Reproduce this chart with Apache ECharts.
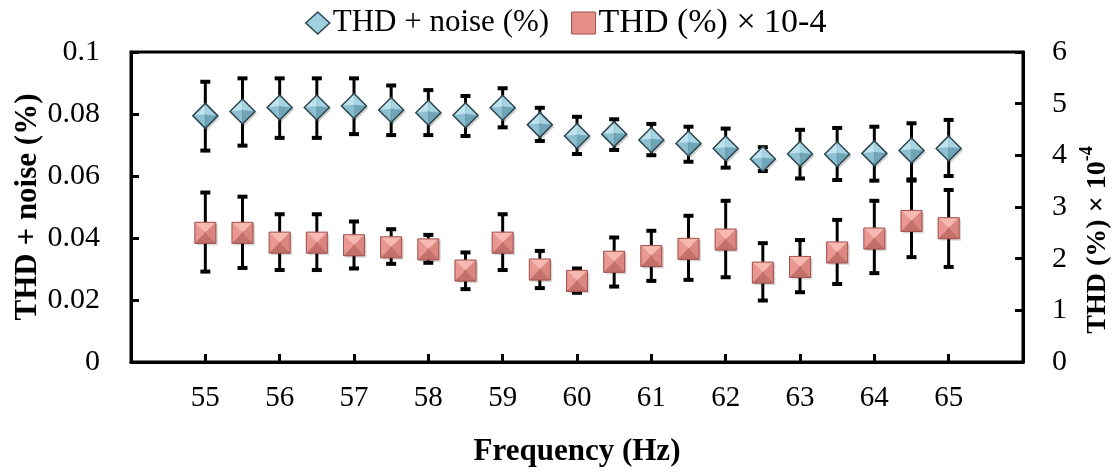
<!DOCTYPE html>
<html>
<head>
<meta charset="utf-8">
<title>THD vs frequency</title>
<style>
  * { margin: 0; padding: 0; }
  #chart-container { width: 1112px; height: 472px; background: #fff; }
</style>
</head>
<body>
<div id="chart-container"></div>
<script src="https://cdn.jsdelivr.net/npm/echarts@6/dist/echarts.min.js"></script>
<script>
var freq = [55, 55.5, 56, 56.5, 57, 57.5, 58, 58.5, 59, 59.5, 60, 60.5, 61, 61.5, 62, 62.5, 63, 63.5, 64, 64.5, 65];

// THD + noise (%), left axis
var thdn     = [0.0794, 0.0808, 0.0821, 0.0821, 0.0826, 0.0813, 0.0804, 0.0796, 0.0820, 0.0765, 0.0729, 0.0735, 0.0716, 0.0705, 0.0689, 0.0655, 0.0671, 0.0670, 0.0673, 0.0682, 0.0689];
var thdnHigh = [0.0904, 0.0915, 0.0915, 0.0915, 0.0915, 0.0892, 0.0877, 0.0858, 0.0883, 0.0820, 0.0791, 0.0783, 0.0768, 0.0759, 0.0753, 0.0693, 0.0749, 0.0755, 0.0759, 0.0770, 0.0781];
var thdnLow  = [0.0682, 0.0698, 0.0723, 0.0723, 0.0735, 0.0732, 0.0732, 0.0729, 0.0757, 0.0713, 0.0671, 0.0684, 0.0667, 0.0646, 0.0627, 0.0616, 0.0592, 0.0587, 0.0585, 0.0589, 0.0600];

// THD (%) x 10^-4, right axis
var thd     = [2.50, 2.50, 2.31, 2.31, 2.26, 2.22, 2.18, 1.77, 2.31, 1.79, 1.57, 1.94, 2.05, 2.19, 2.37, 1.73, 1.84, 2.12, 2.39, 2.73, 2.59];
var thdHigh = [3.28, 3.20, 2.86, 2.86, 2.72, 2.57, 2.46, 2.12, 2.86, 2.15, 1.81, 2.41, 2.54, 2.83, 3.12, 2.30, 2.36, 2.75, 3.12, 3.51, 3.33];
var thdLow  = [1.75, 1.82, 1.78, 1.78, 1.81, 1.90, 1.92, 1.41, 1.78, 1.43, 1.34, 1.46, 1.57, 1.59, 1.64, 1.19, 1.35, 1.51, 1.72, 2.03, 1.84];

var FONT = '"Liberation Serif", "Times New Roman", serif';

function pairs(xs, ys) {
  return xs.map(function (x, i) { return [x, ys[i]]; });
}
function bars(xs, lo, hi) {
  return xs.map(function (x, i) { return [x, lo[i], hi[i]]; });
}

// error bar: vertical line with flat caps
function renderErrorBar(params, api) {
  var x = api.value(0);
  var lo = api.coord([x, api.value(1)]);
  var hi = api.coord([x, api.value(2)]);
  var hw = 5;
  var st = { stroke: '#000', lineWidth: 3 };
  var cap = { stroke: '#000', lineWidth: 4 };
  return {
    type: 'group',
    children: [
      { type: 'line', shape: { x1: lo[0], y1: lo[1], x2: hi[0], y2: hi[1] }, style: st },
      { type: 'line', shape: { x1: hi[0] - hw, y1: hi[1], x2: hi[0] + hw, y2: hi[1] }, style: cap },
      { type: 'line', shape: { x1: lo[0] - hw, y1: lo[1], x2: lo[0] + hw, y2: lo[1] }, style: cap }
    ]
  };
}

function facet(pts, fill) {
  return { type: 'polygon', shape: { points: pts }, style: { fill: fill, stroke: fill, lineWidth: 0.5 } };
}

// bevelled diamond marker
function renderDiamond(params, api) {
  var c = api.coord([api.value(0), api.value(1)]);
  var w = 12.5, h = 12.5;
  var T = [c[0], c[1] - h], R = [c[0] + w, c[1]], B = [c[0], c[1] + h], L = [c[0] - w, c[1]];
  var m = [c[0], c[1] - 1];
  return {
    type: 'group',
    children: [
      { type: 'polygon', shape: { points: [[T[0] + 2, T[1] + 2], [R[0] + 2, R[1] + 2], [B[0] + 2, B[1] + 2], [L[0] + 2, L[1] + 2]] },
        style: { fill: 'rgba(0,0,0,0.18)' } },
      facet([L, T, m], '#bfe3ee'),
      facet([T, R, m], '#a6d4e2'),
      facet([L, B, m], '#8cc0d0'),
      facet([B, R, m], '#6fa5b6'),
      { type: 'polygon', shape: { points: [T, R, B, L] }, style: { fill: 'none', stroke: '#2e454e', lineWidth: 1.5 } }
    ]
  };
}

// bevelled square marker
function renderSquare(params, api) {
  var c = api.coord([api.value(0), api.value(1)]);
  var s = 10.5;
  var TL = [c[0] - s, c[1] - s], TR = [c[0] + s, c[1] - s], BR = [c[0] + s, c[1] + s], BL = [c[0] - s, c[1] + s];
  return {
    type: 'group',
    children: [
      { type: 'rect', shape: { x: TL[0] + 2, y: TL[1] + 2, width: 2 * s, height: 2 * s },
        style: { fill: 'rgba(0,0,0,0.15)' } },
      facet([TL, TR, c], '#f6b8b0'),
      facet([TL, BL, c], '#e99790'),
      facet([TR, BR, c], '#dc8680'),
      facet([BL, BR, c], '#c4706a'),
      { type: 'polygon', shape: { points: [TL, TR, BR, BL] }, style: { fill: 'none', stroke: '#a0524d', lineWidth: 1 } }
    ]
  };
}

var myChart = echarts.init(document.getElementById('chart-container'), null, { renderer: 'canvas' });

var option = {
  animation: false,
  legend: {
    top: 1,
    left: 300,
    itemWidth: 24,
    itemHeight: 22,
    itemGap: 22,
    textStyle: { fontFamily: FONT, fontSize: 31, color: '#000', padding: [0, 0, 0, -2] },
    data: [{
      name: 'THD + noise (%)', icon: 'diamond',
      itemStyle: { color: '#9fd0df', borderColor: '#2e454e', borderWidth: 1.5 }
    }, {
      name: 'THD (%) × 10-4', icon: 'rect',
      itemStyle: { color: '#e58e87', borderColor: '#a0524d', borderWidth: 1 },
      textStyle: { fontSize: 34 }
    }]
  },
  grid: {
    left: 131, right: 89, top: 52, bottom: 110,
    outerBoundsMode: 'none',
    containLabel: false,
    show: true, borderColor: '#000', borderWidth: 3
  },
  xAxis: {
    type: 'value',
    min: 54, max: 66, interval: 1,
    name: 'Frequency (Hz)',
    nameLocation: 'middle',
    nameGap: 74,
    nameTextStyle: { fontFamily: FONT, fontSize: 31, fontWeight: 'bold', color: '#000' },
    axisLine: { lineStyle: { color: '#000', width: 3 } },
    axisTick: { inside: true, length: 8, lineStyle: { color: '#000', width: 3 } },
    axisLabel: {
      margin: 22,
      fontFamily: FONT, fontSize: 29, color: '#000',
      formatter: function (v) { return (v < 55 || v > 65) ? '' : String(v); }
    },
    splitLine: { show: false }
  },
  yAxis: [{
    type: 'value',
    min: 0, max: 0.1, interval: 0.02,
    name: 'THD + noise (%)',
    nameLocation: 'middle',
    nameGap: 88,
    nameMoveOverlap: false,
    nameTextStyle: { fontFamily: FONT, fontSize: 31, fontWeight: 'bold', color: '#000' },
    axisLine: { show: true, lineStyle: { color: '#000', width: 3 } },
    axisTick: { show: true, inside: true, length: 8, lineStyle: { color: '#000', width: 3 } },
    axisLabel: { margin: 31, fontFamily: FONT, fontSize: 30, color: '#000' },
    splitLine: { show: false }
  }, {
    type: 'value',
    position: 'right',
    min: 0, max: 6, interval: 1,
    name: '{m|THD (%) × 10}{s|-4}',
    nameLocation: 'middle',
    nameGap: 50,
    nameRotate: 90,
    nameTextStyle: {
      color: '#000',
      padding: [0, 66, 0, 0],
      rich: {
        m: { fontFamily: FONT, fontSize: 28, fontWeight: 'bold', color: '#000', lineHeight: 34, verticalAlign: 'bottom' },
        s: { fontFamily: FONT, fontSize: 18, fontWeight: 'bold', color: '#000', lineHeight: 34, verticalAlign: 'top' }
      }
    },
    axisLine: { show: true, lineStyle: { color: '#000', width: 3 } },
    axisTick: { show: true, inside: true, length: 8, lineStyle: { color: '#000', width: 3 } },
    axisLabel: { margin: 29, fontFamily: FONT, fontSize: 30, color: '#000' },
    splitLine: { show: false }
  }],
  series: [{
    name: 'THD + noise bars',
    type: 'custom',
    yAxisIndex: 0,
    renderItem: renderErrorBar,
    encode: { x: 0, y: [1, 2] },
    data: bars(freq, thdnLow, thdnHigh),
    z: 1
  }, {
    name: 'THD bars',
    type: 'custom',
    yAxisIndex: 1,
    renderItem: renderErrorBar,
    encode: { x: 0, y: [1, 2] },
    data: bars(freq, thdLow, thdHigh),
    z: 1
  }, {
    name: 'THD + noise (%)',
    type: 'custom',
    yAxisIndex: 0,
    renderItem: renderDiamond,
    encode: { x: 0, y: 1 },
    data: pairs(freq, thdn),
    z: 3
  }, {
    name: 'THD (%) × 10-4',
    type: 'custom',
    yAxisIndex: 1,
    renderItem: renderSquare,
    encode: { x: 0, y: 1 },
    data: pairs(freq, thd),
    z: 3
  }]
};

myChart.setOption(option);
window.addEventListener('resize', myChart.resize);
</script>
</body>
</html>
